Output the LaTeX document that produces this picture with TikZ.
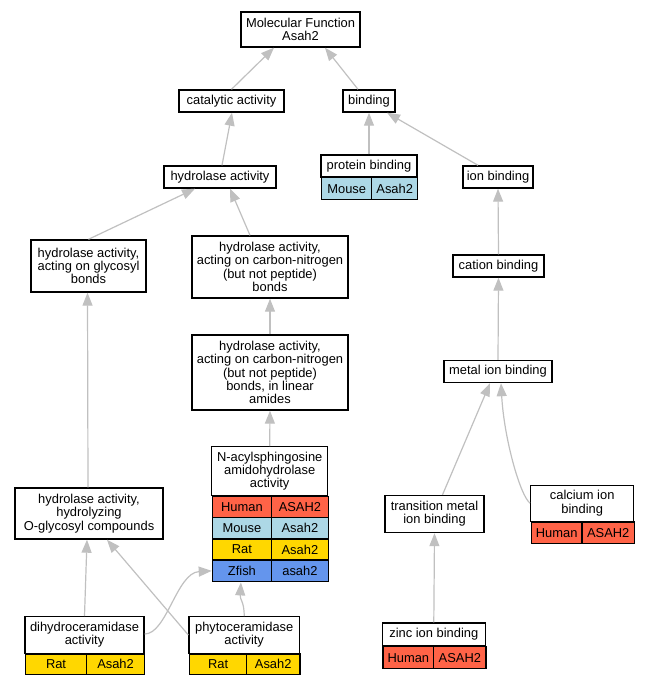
\documentclass[tikz,border=0pt]{standalone}
\usepackage{fontspec}
\setmainfont{Liberation Sans}
\usetikzlibrary{arrows.meta}
\definecolor{human}{HTML}{FF6347}
\definecolor{mouse}{HTML}{ADD8E6}
\definecolor{rat}{HTML}{FFD700}
\definecolor{zfish}{HTML}{6495ED}
\definecolor{edgec}{HTML}{C0C0C0}
\begin{document}
\begin{tikzpicture}[x=1pt,y=-1pt,
  box/.style={draw, line width=1.4pt, inner sep=0pt, align=center, font=\fontsize{12.9}{13.3}\selectfont},
  cell/.style={box, anchor=north west, minimum height=#1},
  cell/.default=21pt,
  edge/.style={draw=edgec, line width=1.2pt, -{Triangle[length=13pt,width=10pt]}, edgec}]
\useasboundingbox (0,0) rectangle (648,685);
% nodes
\node[box, minimum width=119pt, minimum height=35pt] (mf) at (300.5,29.5) {Molecular Function\\Asah2};
\node[box, minimum width=105pt, minimum height=22pt] (cat) at (231.5,101) {catalytic activity};
\node[box, minimum width=52pt, minimum height=22pt] (bind) at (369,101) {binding};
\node[box, minimum width=112pt, minimum height=22pt] (hyd) at (220,177) {hydrolase activity};
\node[box, minimum width=96pt, minimum height=22pt] (prot) at (369,166) {protein binding};
\node[cell=22pt, minimum width=50pt, fill=mouse] (protM) at (321,177) {Mouse};
\node[cell=22pt, minimum width=46pt, fill=mouse] (protA) at (371,177) {Asah2};
\node[box, minimum width=70pt, minimum height=22pt] (ion) at (498,177) {ion binding};
\node[box, minimum width=115pt, minimum height=52pt] (glyc) at (88.5,266) {hydrolase activity,\\acting on glycosyl\\bonds};
\node[box, minimum width=156pt, minimum height=62pt] (cn) at (270,267) {hydrolase activity,\\acting on carbon-nitrogen\\(but not peptide)\\bonds};
\node[box, minimum width=91pt, minimum height=22pt] (cation) at (498.5,266) {cation binding};
\node[box, minimum width=156pt, minimum height=75pt] (lin) at (270,372.5) {hydrolase activity,\\acting on carbon-nitrogen\\(but not peptide)\\bonds, in linear\\amides};
\node[box, minimum width=108pt, minimum height=22pt] (metal) at (498,371.5) {metal ion binding};
% N-acylsphingosine
\node[box, minimum width=116pt, minimum height=49pt] (nacyl) at (269.7,471.2) {N-acylsphingosine\\amidohydrolase\\activity};
\node[cell=21pt, minimum width=59pt, fill=human] (nH1) at (211.7,495.7) {Human};
\node[cell=21pt, minimum width=57pt, fill=human] (nH2) at (270.7,495.7) {ASAH2};
\node[cell=21.6pt, minimum width=59pt, fill=mouse] (nM1) at (211.7,516.7) {Mouse};
\node[cell=21.6pt, minimum width=57pt, fill=mouse] (nM2) at (270.7,516.7) {Asah2};
\node[cell=21pt, minimum width=59pt, fill=rat] (nR1) at (211.7,538.3) {Rat};
\node[cell=21pt, minimum width=57pt, fill=rat] (nR2) at (270.7,538.3) {Asah2};
\node[cell=21.7pt, minimum width=59pt, fill=zfish] (nZ1) at (211.7,559.3) {Zfish};
\node[cell=21.7pt, minimum width=57pt, fill=zfish] (nZ2) at (270.7,559.3) {asah2};
\node[box, minimum width=148pt, minimum height=51pt] (ogly) at (89,513.5) {hydrolase activity,\\hydrolyzing\\O-glycosyl compounds};
\node[box, minimum width=99pt, minimum height=37pt] (trans) at (434.5,514) {transition metal\\ion binding};
% calcium
\node[box, minimum width=103pt, minimum height=36pt] (calc) at (582.2,503.2) {calcium ion\\binding};
\node[cell=21.5pt, minimum width=50.6pt, fill=human] (cH) at (530.7,521.2) {Human};
\node[cell=21.5pt, minimum width=52.4pt, fill=human] (cA) at (581.3,521.2) {ASAH2};
% dihydroceramidase
\node[box, minimum width=119pt, minimum height=36.6pt] (dihy) at (84.5,635) {dihydroceramidase\\activity};
\node[cell=20.7pt, minimum width=60.7pt, fill=rat] (dR) at (25,653.3) {Rat};
\node[cell=20.7pt, minimum width=58.3pt, fill=rat] (dA) at (85.7,653.3) {Asah2};
% phytoceramidase
\node[box, minimum width=110.3pt, minimum height=36.6pt] (phyto) at (244.2,635) {phytoceramidase\\activity};
\node[cell=20.7pt, minimum width=56.7pt, fill=rat] (pR) at (189,653.3) {Rat};
\node[cell=20.7pt, minimum width=53.6pt, fill=rat] (pA) at (245.7,653.3) {Asah2};
% zinc
\node[box, minimum width=103pt, minimum height=23pt] (zinc) at (433.8,634.5) {zinc ion binding};
\node[cell=22pt, minimum width=50.7pt, fill=human] (zH) at (382.3,646) {Human};
\node[cell=22pt, minimum width=52.3pt, fill=human] (zA) at (433,646) {ASAH2};
% edges
\draw[edge] (cat.north) -- ([xshift=-26.5pt]mf.south);
\draw[edge] ([xshift=-11pt]bind.north) -- ([xshift=24.5pt]mf.south);
\draw[edge] ([xshift=2pt]hyd.north) -- ([xshift=0.5pt]cat.south);
\draw[edge] (prot.north) -- (bind.south);
\draw[edge] ([xshift=-20pt]ion.north) -- ([xshift=18pt]bind.south);
\draw[edge] (glyc.north) -- ([xshift=-25pt]hyd.south);
\draw[edge] ([xshift=-20pt]cn.north) -- ([xshift=10pt]hyd.south);
\draw[edge] (cation.north) -- (ion.south);
\draw[edge] (lin.north) -- (cn.south);
\draw[edge] (metal.north) -- (cation.south);
\draw[edge] (nacyl.north) -- (lin.south);
\draw[edge] ([xshift=-1pt]ogly.north) -- ([xshift=-1pt]glyc.south);
\draw[edge] ([xshift=8pt]trans.north) -- ([xshift=-8pt]metal.south);
\draw[edge] (calc.west) .. controls ([xshift=-10pt,yshift=8pt]calc.west) and ([xshift=6pt,yshift=-55pt]metal.south) .. ([xshift=3pt]metal.south);
\draw[edge] (zinc.north) -- (trans.south);
\draw[edge] (dihy.north) -- ([xshift=-2pt]ogly.south);
\draw[edge] ([yshift=1pt]dihy.east) .. controls ([xshift=22pt,yshift=1pt]dihy.east) and ([xshift=-35pt,yshift=-2pt]nZ1.west) .. (nZ1.west);
\draw[edge] (phyto.west) -- ([xshift=18pt]ogly.south);
\draw[edge] (phyto.north) .. controls ([yshift=15pt]phyto.north) and ([xshift=-2pt,yshift=-18pt]nZ1.south) .. ([xshift=-1pt]nZ1.south);
\end{tikzpicture}
\end{document}
